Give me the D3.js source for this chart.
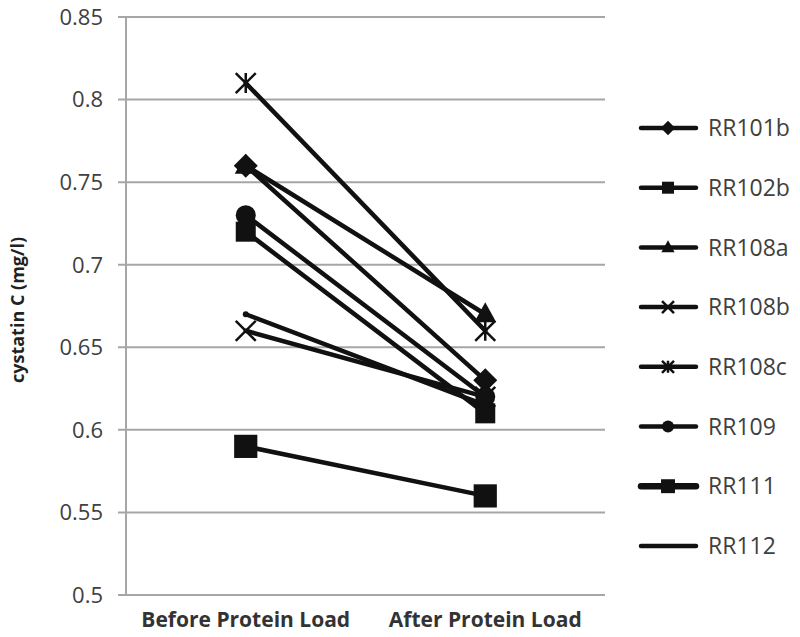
<!DOCTYPE html>
<html><head><meta charset="utf-8">
<script src="https://cdn.jsdelivr.net/npm/d3@7"></script>
<style>body{margin:0;background:#fff}svg{display:block}</style>
</head><body><svg id="c" width="800" height="637"></svg>
<script>
const categories = ["Before Protein Load", "After Protein Load"];
const seriesNames = ["RR101b","RR102b","RR108a","RR108b","RR108c","RR109","RR111","RR112"];
const RR101b = [0.76, 0.63];
const RR102b = [0.72, 0.61];
const RR108a = [0.76, 0.67];
const RR108b = [0.66, 0.62];
const RR108c = [0.81, 0.66];
const RR109  = [0.73, 0.62];
const RR111  = [0.59, 0.56];
const RR112  = [0.67, 0.615];
const yTicks = [0.5,0.55,0.6,0.65,0.7,0.75,0.8,0.85];
const markers = ["diamond","square","triangle","x","asterisk","circle","bigsquare","none"];
const seriesVals = [RR101b,RR102b,RR108a,RR108b,RR108c,RR109,RR111,RR112];

(function(){
const svg = d3.select("#c");
const pLeft = 126, pRight = 605, pTop = 17, pBottom = 595;
const x = d3.scalePoint().domain(categories).range([pLeft,pRight]).padding(0.5);
const y = d3.scaleLinear().domain([0.5,0.85]).range([pBottom,pTop]);
const font = "'Open Sans', sans-serif";

svg.append("g").selectAll("line").data(yTicks).join("line")
  .attr("x1", pLeft-8).attr("x2", pRight).attr("y1", d=>y(d)).attr("y2", d=>y(d))
  .attr("stroke","#a6a6a6").attr("stroke-width",2);
svg.append("line").attr("x1",pLeft).attr("x2",pLeft).attr("y1",pTop).attr("y2",pBottom)
  .attr("stroke","#a6a6a6").attr("stroke-width",2);

svg.append("g").selectAll("text").data(yTicks).join("text")
  .attr("x",103).attr("y",d=>y(d)).attr("dy","0.36em").attr("text-anchor","end")
  .attr("font-family",font).attr("font-size",22).attr("fill","#404040")
  .text(d=>String(+d.toFixed(2)));

svg.append("g").selectAll("text").data(categories).join("text")
  .attr("x",d=>x(d)).attr("y",619).attr("dy","0.36em").attr("text-anchor","middle")
  .attr("font-family",font).attr("font-weight","bold").attr("font-size",21).attr("fill","#333")
  .text(d=>d);

svg.append("text").attr("transform","translate(24,310) rotate(-90)")
  .attr("text-anchor","middle").attr("font-family",font).attr("font-weight","bold")
  .attr("font-size",18).attr("fill","#222").text("cystatin C (mg/l)");

function drawMarker(g, type, cx, cy, s){
  const c = "#111";
  if(type==="diamond"){
    g.append("path").attr("d",`M${cx},${cy-s*0.6}L${cx+s*0.6},${cy}L${cx},${cy+s*0.6}L${cx-s*0.6},${cy}Z`).attr("fill",c);
  } else if(type==="square"){
    g.append("rect").attr("x",cx-s/2).attr("y",cy-s/2).attr("width",s).attr("height",s).attr("fill",c);
  } else if(type==="bigsquare"){
    g.append("rect").attr("x",cx-s*0.58).attr("y",cy-s*0.58).attr("width",s*1.16).attr("height",s*1.16).attr("fill",c);
  } else if(type==="triangle"){
    g.append("path").attr("d",`M${cx},${cy-s*0.6}L${cx+s*0.55},${cy+s*0.4}L${cx-s*0.55},${cy+s*0.4}Z`).attr("fill",c);
  } else if(type==="circle"){
    g.append("circle").attr("cx",cx).attr("cy",cy).attr("r",s*0.5).attr("fill",c);
  } else if(type==="x"){
    const h=s*0.5;
    g.append("path").attr("d",`M${cx-h},${cy-h}L${cx+h},${cy+h}M${cx-h},${cy+h}L${cx+h},${cy-h}`).attr("stroke",c).attr("stroke-width",2.5);
  } else if(type==="asterisk"){
    const h=s*0.5;
    g.append("path").attr("d",`M${cx-h},${cy-h}L${cx+h},${cy+h}M${cx-h},${cy+h}L${cx+h},${cy-h}M${cx},${cy-h}L${cx},${cy+h}`).attr("stroke",c).attr("stroke-width",2.5);
  }
}

const line = d3.line().x((d,i)=>x(categories[i])).y(d=>y(d));
const plot = svg.append("g");
seriesVals.forEach((vals,k)=>{
  plot.append("path").attr("d",line(vals)).attr("fill","none").attr("stroke","#111")
    .attr("stroke-width",4.5).attr("stroke-linecap","round");
});
seriesVals.forEach((vals,k)=>{
  vals.forEach((v,i)=>drawMarker(plot, markers[k], x(categories[i]), y(v), 20));
  if(markers[k]==="none"){
    plot.append("circle").attr("cx",x(categories[0])).attr("cy",y(vals[0])).attr("r",3).attr("fill","#111");
  }
});

const lg = svg.append("g");
seriesNames.forEach((n,k)=>{
  const ly = 128 + k*59.7;
  lg.append("line").attr("x1",641).attr("x2",696).attr("y1",ly).attr("y2",ly)
    .attr("stroke","#111").attr("stroke-width", markers[k]==="bigsquare"?6.5:4.5).attr("stroke-linecap","round");
  drawMarker(lg, markers[k], 668, ly, 12);
  lg.append("text").attr("x",708).attr("y",ly).attr("dy","0.36em")
    .attr("font-family",font).attr("font-size",23).attr("fill","#404040").text(n);
});
})();
</script></body></html>
